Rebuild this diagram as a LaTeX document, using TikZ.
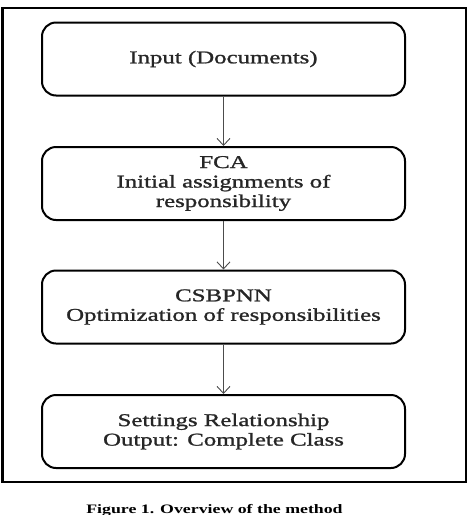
\documentclass[tikz,border=0pt]{standalone}
\usepackage{fontspec}
\setmainfont{Liberation Serif}[FakeStretch=1.38]
\newfontfamily\boxfont{Liberation Serif}[FakeStretch=1.38, FakeBold=1.2]
\usetikzlibrary{arrows.meta}
\tikzset{
  stepbox/.style={draw=black, line width=2pt, rounded corners=14pt,
    minimum width=363pt, minimum height=73pt, align=center,
    text=black!85, inner sep=0pt,
    font=\boxfont\fontsize{18}{19.5}\selectfont},
  flowarrow/.style={draw=black!70, line width=0.9pt,
    -{Straight Barb[length=7pt,width=13pt,line width=0.9pt]}},
  frameline/.style={draw=black, line width=2.6pt}
}
\begin{document}
\begin{tikzpicture}[x=1pt,y=-1pt]
\useasboundingbox (0,0) rectangle (471,515);
\fill[white] (0,0) rectangle (471,515);
\draw[frameline] (2.5,8) rectangle (466,482);
\node[stepbox] (b1) at (223.5,59) {Input (Documents)};
\node[stepbox] (b2) at (223.5,183.5) {FCA\\Initial assignments of\\responsibility};
\node[stepbox] (b3) at (223.5,307) {CSBPNN\\Optimization of responsibilities};
\node[stepbox] (b4) at (223.5,431.5) {Settings Relationship\\Output: Complete Class};
\draw[flowarrow] (b1) -- (b2);
\draw[flowarrow] (b2) -- (b3);
\draw[flowarrow] (b3) -- (b4);
\node[anchor=base, inner sep=0pt, font=\fontsize{12.9}{14}\selectfont\bfseries] (cap) at (214.5,513.5) {Figure 1. Overview of the method};
\end{tikzpicture}
\end{document}
